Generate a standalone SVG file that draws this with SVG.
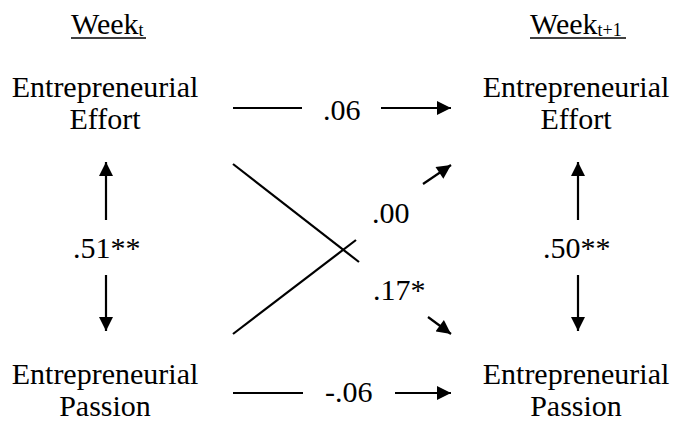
<svg xmlns="http://www.w3.org/2000/svg" width="677" height="427" viewBox="0 0 677 427" font-family="'Liberation Serif', 'Times New Roman', serif">
<style>
text{font-family:'Liberation Serif','Times New Roman',serif;font-size:30px;fill:#000}
.c{text-anchor:middle}
.sub{font-size:18px}
line{stroke:#000;stroke-width:2.2}
</style>
<defs>
<marker id="ah" viewBox="0 0 10 10" refX="10" refY="5" markerWidth="15" markerHeight="14" markerUnits="userSpaceOnUse" orient="auto">
<path d="M0,0 L10,5 L0,10 Z" fill="#000"/>
</marker>
</defs>
<rect width="677" height="427" fill="#fff"/>
<g id="head-t">
<text x="71" y="34">Week<tspan class="sub" dy="2">t</tspan></text>
<line x1="71" y1="38" x2="146" y2="38" style="stroke-width:1.5"/>
</g>
<g id="head-t1">
<text x="530" y="34">Week<tspan class="sub" dy="2">t+1</tspan></text>
<line x1="530" y1="38" x2="626" y2="38" style="stroke-width:1.5"/>
</g>
<g id="effort-t">
<text class="c" x="105" y="97">Entrepreneurial</text>
<text class="c" x="105" y="129">Effort</text>
</g>
<g id="effort-t1">
<text class="c" x="576" y="97">Entrepreneurial</text>
<text class="c" x="576" y="129">Effort</text>
</g>
<g id="passion-t">
<text class="c" x="105" y="384">Entrepreneurial</text>
<text class="c" x="105" y="416">Passion</text>
</g>
<g id="passion-t1">
<text class="c" x="576" y="384">Entrepreneurial</text>
<text class="c" x="576" y="416">Passion</text>
</g>
<g id="connectors">
<line x1="233" y1="108" x2="302" y2="108"/>
<line x1="381" y1="108" x2="451" y2="108" marker-end="url(#ah)"/>
<text x="323" y="120">.06</text>
<line x1="233" y1="393" x2="303" y2="393"/>
<line x1="395" y1="393" x2="451" y2="393" marker-end="url(#ah)"/>
<text x="325" y="402">-.06</text>
<line x1="106" y1="220" x2="106" y2="162" marker-end="url(#ah)"/>
<line x1="106" y1="275" x2="106" y2="331" marker-end="url(#ah)"/>
<text x="73" y="258">.51**</text>
<line x1="578" y1="220" x2="578" y2="162" marker-end="url(#ah)"/>
<line x1="578" y1="275" x2="578" y2="331" marker-end="url(#ah)"/>
<text x="543" y="258">.50**</text>
<line x1="233" y1="164" x2="359" y2="262"/>
<line x1="233" y1="334" x2="356" y2="240"/>
<line x1="423" y1="184" x2="451" y2="165" marker-end="url(#ah)"/>
<line x1="428" y1="317" x2="451" y2="334" marker-end="url(#ah)"/>
<text x="372" y="223">.00</text>
<text x="373" y="300">.17*</text>
</g>
</svg>
